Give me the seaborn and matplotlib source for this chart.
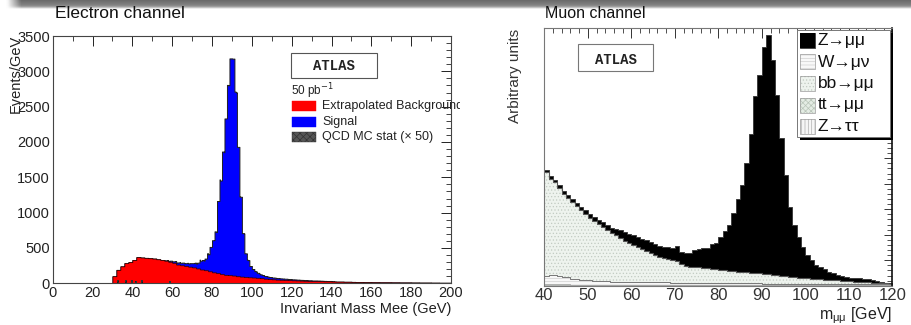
import numpy as np
import pandas as pd
import matplotlib
matplotlib.use("Agg")
import matplotlib.pyplot as plt
import seaborn as sns
from matplotlib.patches import Rectangle
from matplotlib.transforms import Bbox, TransformedBbox

# ---------------- data: electron channel ----------------
# background, 2 GeV bins from 30 to 200 GeV (Events/GeV)
ele_bkg = [100, 190, 240, 285, 300, 330, 370, 365, 360, 355,
           350, 340, 330, 320, 305, 290, 265, 255, 245, 235,
           225, 210, 195, 185, 170, 155, 145, 130, 120, 115,
           110, 100, 95, 90, 85, 82, 78, 72, 65, 60,
           56, 52, 50, 48, 45, 42, 40, 38, 36, 34,
           32, 32, 30, 28, 28, 26, 24, 24, 22, 22,
           20, 18, 18, 16, 16, 15, 15, 14, 14, 14,
           13, 13, 12, 12, 12, 11, 11, 10, 10, 10,
           9, 9, 8, 8, 8]
ele_bkg_start = 30.0
ele_bkg_width = 2.0
# signal stacked on background, 1.25 GeV bins from 56.25 GeV
ele_sig = [5, 10, 15, 20, 25, 30, 35, 38, 40, 45,
           50, 60, 67, 82, 125, 135, 165, 240, 345, 455,
           580, 1020, 1325, 1735, 2213, 2688, 3068, 3070, 2602, 1831,
           1130, 615, 334, 243, 160, 120, 90, 70, 55, 45,
           38, 33, 29, 26, 24, 22, 20, 18, 17, 16,
           15, 14, 13, 12, 11, 10, 10, 9, 9, 8,
           8, 7, 7, 6, 6, 5, 5, 4]
ele_sig_start = 56.25
ele_sig_width = 1.25
# QCD MC stat (x50) small error boxes
qcd_pos = [33, 37, 40, 42, 45, 59]
qcd_err = [40, 45, 50, 35, 40, 30]

# ---------------- data: muon channel (arbitrary units), 1 GeV bins 40..120 ----------------
mu_zmm = [2.5, 3.5, 2.5, 3, 3, 3, 3, 3, 3, 3.5,
          4, 4, 4.5, 5, 5, 5.5, 6, 8, 9, 9.5,
          9.5, 10, 10, 10.5, 11, 11, 11, 11, 12.5, 11.5,
          14.5, 12, 13, 13.5, 17, 18, 19.5, 20.5, 24.5, 26.5,
          33, 39.5, 45.7, 58, 72.7, 86.7, 109, 138.4, 177.2, 198.2,
          227, 239.2, 214.7, 180.2, 137.4, 101.2, 70, 52.2, 41, 31,
          23.2, 18.7, 13.9, 12.0, 10.2, 8, 6.7, 5.3, 4.6, 4.2,
          3.5, 3.2, 3.4, 2.7, 2.9, 2.5, 1.7, 1.3, 0.5, 0.2]
mu_bb = [104.2, 95.7, 92.8, 88.3, 83.4, 79.4, 76.5, 73, 69.6, 66.1,
         62.2, 59.7, 56.7, 54.2, 51.2, 48.7, 46.7, 43.7, 40.9, 38.9,
         37.4, 35.4, 33.4, 31.5, 29.5, 27.6, 25.6, 24.2, 23.2, 22.8,
         22.1, 19.1, 16.6, 16.2, 15.7, 15.8, 15.3, 14.9, 14.4, 14,
         13.6, 13.1, 12.6, 12.1, 11.6, 11.7, 11.2, 10.7, 10.2, 10.2,
         9.9, 9.4, 8.9, 8.4, 7.9, 7.5, 7, 6.5, 6, 6,
         5.7, 5.2, 5, 4.7, 4.4, 4.2, 3.9, 3.6, 3.3, 3,
         2.9, 2.6, 2.4, 2.1, 1.9, 1.7, 1.5, 1.2, 1.0, 0.7]
mu_wmn = [8, 9.5, 9.5, 8, 7, 7, 6, 5.5, 5, 4.5,
          4.5, 4, 4, 3.5, 3.5, 3, 3, 3, 2.8, 2.8,
          2.5, 2.5, 2.5, 2.4, 2.4, 2.3, 2.3, 2.2, 2.2, 2.1,
          2, 2, 2, 1.9, 1.9, 1.8, 1.8, 1.7, 1.7, 1.6,
          1.6, 1.6, 1.6, 1.6, 1.6, 1.5, 1.5, 1.5, 1.5, 1.5,
          1.4, 1.4, 1.4, 1.4, 1.4, 1.3, 1.3, 1.3, 1.3, 1.3,
          1.2, 1.2, 1.2, 1.2, 1.2, 1.2, 1.2, 1.2, 1.2, 1.2,
          1.1, 1.1, 1.1, 1.1, 1.1, 1.0, 1.0, 1.0, 1.0, 1.0]
mu_tt = [0.4, 0.4, 0.4, 0.4, 0.4, 0.4, 0.4, 0.4, 0.4, 0.4,
         0.3, 0.3, 0.3, 0.3, 0.3, 0.3, 0.3, 0.3, 0.3, 0.3,
         0.3, 0.3, 0.3, 0.3, 0.3, 0.3, 0.3, 0.3, 0.3, 0.3,
         0.3, 0.3, 0.3, 0.3, 0.3, 0.3, 0.3, 0.3, 0.3, 0.3,
         0.3, 0.3, 0.3, 0.3, 0.3, 0.3, 0.3, 0.3, 0.3, 0.3,
         0.2, 0.2, 0.2, 0.2, 0.2, 0.2, 0.2, 0.2, 0.2, 0.2,
         0.2, 0.2, 0.2, 0.2, 0.2, 0.2, 0.2, 0.2, 0.2, 0.2,
         0.2, 0.2, 0.2, 0.2, 0.2, 0.2, 0.2, 0.2, 0.2, 0.2]
mu_ztt = [1.1, 1.1, 1.0, 1.0, 0.9, 0.9, 0.8, 0.8, 0.7, 0.7,
          0.7, 0.7, 0.6, 0.6, 0.6, 0.6, 0.6, 0.6, 0.6, 0.6,
          0.8, 0.8, 0.8, 0.8, 0.8, 0.8, 0.8, 0.8, 0.8, 0.8,
          0.6, 0.6, 0.6, 0.6, 0.6, 0.6, 0.6, 0.6, 0.6, 0.6,
          0.5, 0.5, 0.5, 0.5, 0.5, 0.5, 0.5, 0.5, 0.5, 0.5,
          0.5, 0.5, 0.5, 0.5, 0.5, 0.4, 0.4, 0.4, 0.4, 0.4,
          0.4, 0.4, 0.4, 0.4, 0.4, 0.4, 0.4, 0.4, 0.4, 0.4,
          0.3, 0.3, 0.3, 0.3, 0.3, 0.3, 0.3, 0.3, 0.3, 0.3]
mu_labels = ["Z\u2192\u03bc\u03bc", "W\u2192\u03bc\u03bd", "bb\u2192\u03bc\u03bc",
             "tt\u2192\u03bc\u03bc", "Z\u2192\u03c4\u03c4"]

# ---------------- style ----------------
sns.set_theme(style="white")
plt.rcParams["font.family"] = ["Liberation Sans", "DejaVu Sans"]
plt.rcParams["hatch.linewidth"] = 0.5
plt.rcParams["axes.linewidth"] = 0.8

W, H = 911, 325
fig = plt.figure(figsize=(W / 100, H / 100), dpi=100)
fig.patch.set_facecolor("white")


def fx(px):
    return px / W


def fy(py):
    return 1 - py / H


def hist(ax, centers, weights, edges, **kw):
    df = pd.DataFrame({"x": np.asarray(centers, float), "w": np.asarray(weights, float)})
    sns.histplot(data=df, x="x", weights="w", bins=[float(e) for e in edges],
                 element="step", ax=ax, **kw)


# top slide band (gradient)
band = fig.add_axes([0, fy(10), 1, 10 / H])
grad = np.array([0.42, 0.44, 0.46, 0.48, 0.50, 0.54, 0.62, 0.76, 0.92, 1.0])[:, None] * np.ones((1, 400))
left_fade = np.clip((np.linspace(0, W, 400) - 6) / 14, 0, 1)[None, :]
img = 1 - (1 - grad) * left_fade
band.imshow(img, cmap="gray", vmin=0, vmax=1, aspect="auto", extent=[0, 1, 0, 1],
            interpolation="bilinear")
band.set_axis_off()

# ---------------- electron panel ----------------
axL = fig.add_axes([fx(52.7), fy(283.3), fx(451) - fx(52.7), fy(36) - fy(283.3)])
step = 0.25
edges_e = np.arange(0, 200 + step / 2, step)
cent_e = edges_e[:-1] + step / 2
nb = len(cent_e)
bkg_f = np.zeros(nb)
i0 = int(round(ele_bkg_start / step))
rep_b = int(round(ele_bkg_width / step))
vals = np.repeat(np.asarray(ele_bkg, float), rep_b)
bkg_f[i0:i0 + len(vals)] = vals[: nb - i0]
sig_f = np.zeros(nb)
j0 = int(round(ele_sig_start / step))
rep_s = int(round(ele_sig_width / step))
svals = np.repeat(np.asarray(ele_sig, float), rep_s)
sig_f[j0:j0 + len(svals)] = svals
tot_f = bkg_f + sig_f

hist(axL, cent_e, tot_f, edges_e, fill=True, color="#0000ff", alpha=1,
     linewidth=0.7, edgecolor="#202020")
hist(axL, cent_e, bkg_f, edges_e, fill=True, color="#ff0000", alpha=1,
     linewidth=0.5, edgecolor="#300000")
axL.bar(qcd_pos, qcd_err, width=1.0, color="#333333", hatch="////",
        edgecolor="#111111", linewidth=0)
axL.set_xlim(0, 200)
axL.set_ylim(0, 3500)
axL.set_xlabel("")
axL.set_ylabel("")
axL.set_xticks(np.arange(0, 201, 20))
axL.set_xticks(np.arange(0, 201, 10), minor=True)
axL.set_yticks(np.arange(0, 3501, 500))
axL.set_yticks(np.arange(0, 3501, 100), minor=True)
axL.tick_params(axis="both", which="both", direction="in", top=True, right=True,
                colors="#222222", labelsize=10.5, pad=2)
axL.tick_params(which="major", length=7, width=0.7)
axL.tick_params(which="minor", length=3.5, width=0.6)
for s in axL.spines.values():
    s.set_color("#444444")
    s.set_linewidth(0.8)

fig.text(fx(55), fy(14), "Electron channel", fontsize=12.5, va="center", ha="left",
         color="#111111")
fig.text(fx(15.5), fy(74), "Events/GeV", rotation=90, fontsize=10.5,
         va="center", ha="center", color="#222222")
fig.text(fx(451), fy(309), "Invariant Mass Mee (GeV)", fontsize=10.5,
         ha="right", va="center", color="#222222")

# ATLAS box (electron)
fig.patches.append(Rectangle((fx(291), fy(78)), fx(377) - fx(291), fy(53) - fy(78),
                             transform=fig.transFigure, facecolor="white",
                             edgecolor="#555555", linewidth=0.8))
fig.text(fx(334), fy(66), "ATLAS", family=["Liberation Mono", "DejaVu Sans Mono"],
         weight="bold", fontsize=10, ha="center", va="center", color="#222222")
fig.text(fx(291), fy(91), "50 pb$^{-1}$", fontsize=8.5, ha="left", va="center",
         color="#222222")
clipbox = TransformedBbox(Bbox([[0, 0], [460 / W, 1]]), fig.transFigure)
leg_e = [("Extrapolated Background", "#ff0000", None),
         ("Signal", "#0000ff", None),
         ("QCD MC stat (\u00d7 50)", "#555555", "xxxxx")]
for i, (lab, col, hat) in enumerate(leg_e):
    yc = 106 + i * 15.5
    fig.patches.append(Rectangle((fx(292), fy(yc + 5)), fx(316) - fx(292), 10 / H,
                                 transform=fig.transFigure, facecolor=col,
                                 edgecolor="#333333" if hat else col, hatch=hat,
                                 linewidth=0.3))
    t = fig.text(fx(322), fy(yc), lab, fontsize=9, ha="left", va="center",
                 color="#222222")
    t.set_clip_box(clipbox)
    t.set_clip_on(True)

# ---------------- muon panel ----------------
axR = fig.add_axes([fx(544.3), fy(285.7), fx(892.3) - fx(544.3), fy(28.3) - fy(285.7)])
edges_m = np.arange(40, 121, 1.0)
cent_m = edges_m[:-1] + 0.5
zmm = np.array(mu_zmm)
bb = np.array(mu_bb)
wmn = np.array(mu_wmn)
tt = np.array(mu_tt)
ztt = np.array(mu_ztt)
lvl_ztt = ztt
lvl_tt = lvl_ztt + tt
lvl_w = lvl_tt + wmn
lvl_bb = lvl_w + bb
lvl_z = lvl_bb + zmm

# Z->mumu (top)
hist(axR, cent_m, lvl_z, edges_m, fill=True, color="black", alpha=1,
     linewidth=0.6, edgecolor="#333333")
# bb->mumu
hist(axR, cent_m, lvl_bb, edges_m, fill=True, color="#eef3ee", alpha=1, linewidth=0)
axR.collections[-1].set_hatch(".....")
axR.collections[-1].set_edgecolor("#c2cbc2")
axR.collections[-1].set_linewidth(0)
hist(axR, cent_m, lvl_bb, edges_m, fill=False, color="#555555", linewidth=0.8)
# W->munu
hist(axR, cent_m, lvl_w, edges_m, fill=True, color="#f8f8f8", alpha=1, linewidth=0)
axR.collections[-1].set_hatch("-----")
axR.collections[-1].set_edgecolor("#d0d0d0")
axR.collections[-1].set_linewidth(0)
hist(axR, cent_m, lvl_w, edges_m, fill=False, color="#777777", linewidth=0.7)
# tt->mumu
hist(axR, cent_m, lvl_tt, edges_m, fill=True, color="#e4ece4", alpha=1,
     linewidth=0.4, edgecolor="#888888")
# Z->tautau
hist(axR, cent_m, lvl_ztt, edges_m, fill=True, color="#f4f4f4", alpha=1,
     linewidth=0.4, edgecolor="#888888")

axR.set_xlim(40, 120)
axR.set_ylim(0, 257.4)
axR.set_xlabel("")
axR.set_ylabel("")
axR.set_xticks(np.arange(40, 121, 10))
axR.set_xticks(np.arange(40, 121, 2), minor=True)
axR.set_yticks(np.arange(0, 257, 25.5))
axR.set_yticks(np.arange(0, 257, 5.1), minor=True)
axR.set_yticklabels([])
axR.tick_params(axis="both", which="both", direction="in", top=True, right=True,
                colors="#333333", labelsize=12, pad=2)
axR.tick_params(which="major", length=7, width=0.7)
axR.tick_params(which="minor", length=3.5, width=0.6)
axR.tick_params(axis="y", which="major", length=6)
for k, s in axR.spines.items():
    s.set_color("#777777")
    s.set_linewidth(0.8)
axR.spines["right"].set_color("#111111")
axR.spines["right"].set_linewidth(1.2)

fig.text(fx(545), fy(14), "Muon channel", fontsize=11.5, va="center", ha="left",
         color="#111111")
fig.text(fx(515), fy(76), "Arbitrary units", rotation=90, fontsize=11,
         va="center", ha="center", color="#333333")
fig.text(fx(892), fy(316), "m$_{\\mathregular{\u03bc\u03bc}}$ [GeV]", fontsize=11.5,
         ha="right", va="center", color="#222222")

# ATLAS box (muon)
fig.patches.append(Rectangle((fx(578), fy(71)), fx(653) - fx(578), fy(44.5) - fy(71),
                             transform=fig.transFigure, facecolor="white",
                             edgecolor="#777777", linewidth=0.8))
fig.text(fx(615.5), fy(59.5), "ATLAS", family=["Liberation Mono", "DejaVu Sans Mono"],
         weight="bold", fontsize=10, ha="center", va="center", color="#222222")

# legend (muon) with shadow
fig.patches.append(Rectangle((fx(800), fy(139.5)), fx(893) - fx(800), fy(33) - fy(139.5),
                             transform=fig.transFigure, facecolor="black",
                             edgecolor="none"))
fig.patches.append(Rectangle((fx(797), fy(137)), fx(890) - fx(797), fy(30) - fy(137),
                             transform=fig.transFigure, facecolor="white",
                             edgecolor="#777777", linewidth=0.7))
leg_m = [("black", None, "#000000"), ("#f8f8f8", "-----", "#d0d0d0"),
         ("#eef3ee", ".....", "#c2cbc2"), ("#e4ece4", "xxxxxx", "#b8c4b8"),
         ("#f6f6f6", "|||||", "#b0b0b0")]
for i, (lab, (fc, hat, hc)) in enumerate(zip(mu_labels, leg_m)):
    yc = 40.5 + i * 21.5
    fig.patches.append(Rectangle((fx(799.5), fy(yc + 7.5)), 15.5 / W, 15 / H,
                                 transform=fig.transFigure, facecolor=fc,
                                 edgecolor=hc, hatch=hat, linewidth=0))
    fig.patches.append(Rectangle((fx(799.5), fy(yc + 7.5)), 15.5 / W, 15 / H,
                                 transform=fig.transFigure, facecolor="none",
                                 edgecolor="#999999" if hat else "black",
                                 linewidth=0.5))
    fig.text(fx(818), fy(yc), lab, fontsize=12.5, ha="left", va="center",
             color="#111111")

fig.savefig("out.png", dpi=100, facecolor="white")
